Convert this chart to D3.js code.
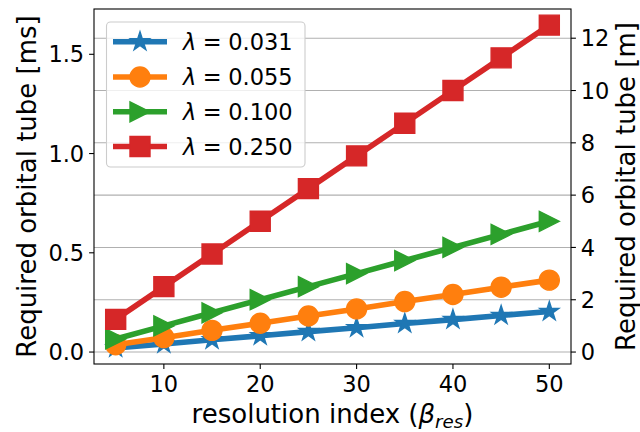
<!DOCTYPE html>
<html>
<head>
<meta charset="utf-8">
<script src="https://cdn.jsdelivr.net/npm/d3@7"></script>
<style>
  body { margin: 0; background: #fff; }
  text { font-family: "DejaVu Sans", sans-serif; fill: #000; }
</style>
</head>
<body>
<svg id="chart" width="640" height="432"></svg>
<script>
// data (tube length in metres)
const betaRes = [5, 10, 15, 20, 25, 30, 35, 40, 45, 50];
const lambdaLabels = ["0.031", "0.055", "0.100", "0.250"];
const tube031 = [0.16, 0.31, 0.47, 0.62, 0.78, 0.93, 1.09, 1.24, 1.40, 1.55];
const tube055 = [0.28, 0.55, 0.83, 1.10, 1.38, 1.65, 1.93, 2.20, 2.48, 2.75];
const tube100 = [0.50, 1.00, 1.50, 2.00, 2.50, 3.00, 3.50, 4.00, 4.50, 5.00];
const tube250 = [1.25, 2.50, 3.75, 5.00, 6.25, 7.50, 8.75, 10.00, 11.25, 12.50];
const speedMPerMs = 7.59; // orbital speed, m per ms (ties the two y axes)
const xTicks = [10, 20, 30, 40, 50];
const leftTicks = [0.0, 0.5, 1.0, 1.5];
const rightTicks = [0, 2, 4, 6, 8, 10, 12];

const colors = ["#1f77b4", "#ff7f0e", "#2ca02c", "#d62728"];
const markers = ["star", "circle", "triangle", "square"];
const seriesValues = [tube031, tube055, tube100, tube250];

const W = 640, H = 432;
const m = {left: 94, right: 571, top: 9, bottom: 364};
const tickLen = 4.9, tickPad = 4.9;
const tickFont = 22.5, labelFont = 26, legendFont = 22.5;

const svg = d3.select('#chart');

// matplotlib-like 5% margins
const pad = ([a, b]) => { const d = (b - a) * 0.05; return [a - d, b + d]; };
const allVals = seriesValues.flat();

const x = d3.scaleLinear().domain(pad(d3.extent(betaRes))).range([m.left, m.right]);
const yR = d3.scaleLinear().domain(pad(d3.extent(allVals))).range([m.bottom, m.top]);
const yL = d3.scaleLinear().domain(yR.domain().map(v => v / speedMPerMs)).range([m.bottom, m.top]);

// grid (from right axis)
svg.append('g').selectAll('line').data(rightTicks).join('line')
  .attr('x1', m.left).attr('x2', m.right)
  .attr('y1', d => yR(d)).attr('y2', d => yR(d))
  .attr('stroke', '#b0b0b0').attr('stroke-width', 1.1);

// marker shapes
const r = 10;
function markerPath(type) {
  if (type === 'circle') return d3.symbol(d3.symbolCircle, Math.PI * r * r)();
  if (type === 'square') return `M${-r},${-r}H${r}V${r}H${-r}Z`;
  if (type === 'triangle') return `M${r},0L${-r},${-r}L${-r},${r}Z`;
  // 5-point star, inner ratio as matplotlib
  const pts = [];
  for (let i = 0; i < 10; i++) {
    const rad = i % 2 ? r * 0.381966 : r;
    const a = -Math.PI / 2 + i * Math.PI / 5;
    pts.push([rad * Math.cos(a), rad * Math.sin(a)]);
  }
  return 'M' + pts.map(p => p.join(',')).join('L') + 'Z';
}

const line = d3.line().x(d => x(d[0])).y(d => yR(d[1]));
const plot = svg.append('g');
seriesValues.forEach((vals, i) => {
  const pts = betaRes.map((b, j) => [b, vals[j]]);
  const g = plot.append('g');
  g.append('path').datum(pts).attr('d', line)
    .attr('fill', 'none').attr('stroke', colors[i]).attr('stroke-width', 5.6)
    .attr('stroke-linejoin', 'round');
  g.selectAll('path.mk').data(pts).join('path').attr('class', 'mk')
    .attr('transform', d => `translate(${x(d[0])},${yR(d[1])})`)
    .attr('d', markerPath(markers[i]))
    .attr('fill', colors[i]).attr('stroke', colors[i]).attr('stroke-width', 1.4);
});

// frame
svg.append('rect').attr('x', m.left).attr('y', m.top)
  .attr('width', m.right - m.left).attr('height', m.bottom - m.top)
  .attr('fill', 'none').attr('stroke', '#000').attr('stroke-width', 1.1);

// x ticks
const xt = svg.append('g');
xt.selectAll('line').data(xTicks).join('line')
  .attr('x1', d => x(d)).attr('x2', d => x(d))
  .attr('y1', m.bottom).attr('y2', m.bottom + tickLen)
  .attr('stroke', '#000').attr('stroke-width', 1.1);
xt.selectAll('text').data(xTicks).join('text')
  .attr('x', d => x(d)).attr('y', 392)
  .attr('text-anchor', 'middle').style('font-size', tickFont + 'px')
  .text(d => d);

// left ticks
const lt = svg.append('g');
lt.selectAll('line').data(leftTicks).join('line')
  .attr('x1', m.left - tickLen).attr('x2', m.left)
  .attr('y1', d => yL(d)).attr('y2', d => yL(d))
  .attr('stroke', '#000').attr('stroke-width', 1.1);
lt.selectAll('text').data(leftTicks).join('text')
  .attr('x', m.left - tickLen - tickPad).attr('y', d => yL(d) + 8.2)
  .attr('text-anchor', 'end').style('font-size', tickFont + 'px')
  .text(d => d3.format('.1f')(d));

// right ticks
const rt = svg.append('g');
rt.selectAll('line').data(rightTicks).join('line')
  .attr('x1', m.right).attr('x2', m.right + tickLen)
  .attr('y1', d => yR(d)).attr('y2', d => yR(d))
  .attr('stroke', '#000').attr('stroke-width', 1.1);
rt.selectAll('text').data(rightTicks).join('text')
  .attr('x', m.right + tickLen + tickPad).attr('y', d => yR(d) + 8.2)
  .attr('text-anchor', 'start').style('font-size', tickFont + 'px')
  .text(d => d);

// axis labels
const cy = (m.top + m.bottom) / 2;
svg.append('text').attr('transform', `translate(35.5,${cy}) rotate(-90)`)
  .attr('text-anchor', 'middle').style('font-size', labelFont + 'px')
  .text('Required orbital tube [ms]');
svg.append('text').attr('transform', `translate(635,${cy}) rotate(-90)`)
  .attr('text-anchor', 'middle').style('font-size', labelFont + 'px')
  .text('Required orbital tube [m]');
const xl = svg.append('text').attr('x', (m.left + m.right) / 2).attr('y', 423)
  .attr('text-anchor', 'middle').style('font-size', labelFont + 'px');
xl.append('tspan').text('resolution index (');
xl.append('tspan').style('font-style', 'italic').text('β');
xl.append('tspan').style('font-style', 'italic').style('font-size', (labelFont * 0.7) + 'px')
  .attr('dy', 5).text('res');
xl.append('tspan').attr('dy', -5).text(')');

// legend
const leg = svg.append('g');
leg.append('rect').attr('x', 106.5).attr('y', 22).attr('width', 198.5).attr('height', 145)
  .attr('rx', 4).attr('fill', '#fff').attr('fill-opacity', 0.8)
  .attr('stroke', '#cccccc').attr('stroke-width', 1.1);
const legY = [41.7, 77, 111.8, 146.5];
lambdaLabels.forEach((lab, i) => {
  const g = leg.append('g').attr('transform', `translate(0,${legY[i]})`);
  g.append('line').attr('x1', 113).attr('x2', 167).attr('y1', 0).attr('y2', 0)
    .attr('stroke', colors[i]).attr('stroke-width', 5.6);
  g.append('path').attr('transform', 'translate(140,0)').attr('d', markerPath(markers[i]))
    .attr('fill', colors[i]).attr('stroke', colors[i]).attr('stroke-width', 1.4);
  const t = g.append('text').attr('x', 183).attr('y', 8.2).style('font-size', legendFont + 'px');
  t.append('tspan').style('font-style', 'italic').text('λ');
  t.append('tspan').attr('dx', 6.5).text('=');
  t.append('tspan').attr('dx', 6.5).text(lab);
});
</script>
</body>
</html>
